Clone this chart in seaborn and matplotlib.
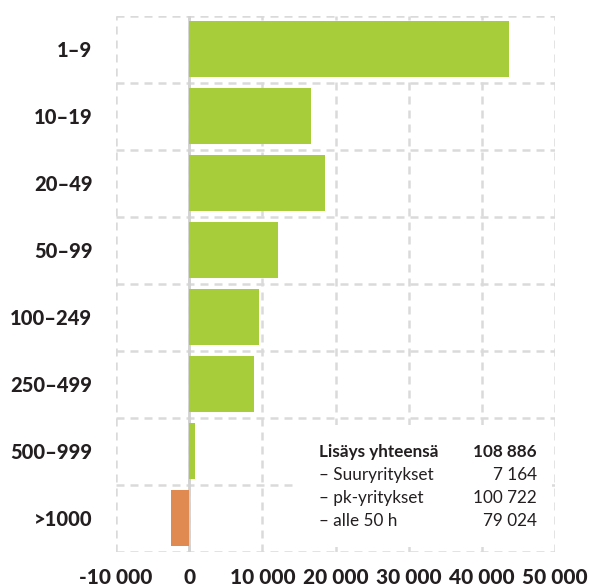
import matplotlib
matplotlib.use("Agg")
import matplotlib.pyplot as plt
from matplotlib.patches import Rectangle
import seaborn as sns
import pandas as pd

# data
categories = ["1–9", "10–19", "20–49", "50–99", "100–249", "250–499", "500–999", ">1000"]
values = [43700, 16700, 18624, 12100, 9598, 8800, 800, -2436]
bar_colors = ["#a8cd3a"] * 7 + ["#e08a52"]
x_ticks = [-10000, 0, 10000, 20000, 30000, 40000, 50000]
x_labels = ["-10 000", "0", "10 000", "20 000", "30 000", "40 000", "50 000"]

box_labels = ["Lisäys yhteensä", "– Suuryritykset", "– pk-yritykset", "– alle 50 h"]
box_values = ["108 886", "7 164", "100 722", "79 024"]

sns.set_style("white")
plt.rcParams["font.family"] = ["Lato", "DejaVu Sans"]

df = pd.DataFrame({"cat": categories, "val": values})

fig = plt.figure(figsize=(5.9, 5.87), dpi=100)
W, H = 590, 587
ax = fig.add_axes([116 / W, 1 - 551.7 / H, (555 - 116) / W, (551.7 - 15.7) / H])

sns.barplot(data=df, x="val", y="cat", hue="cat", palette=bar_colors,
            legend=False, width=0.83, orient="h", ax=ax, zorder=3,
            linewidth=0, saturation=1)

ax.set_xlim(-10000, 50000)
ax.set_ylim(7.5, -0.5)
for s in ax.spines.values():
    s.set_visible(False)

# grid lines (dashed)
grid_kw = dict(color="#dadada", lw=1.8, linestyle=(0, (3.2, 2.4)), zorder=1)
for xt in x_ticks:
    ax.axvline(xt, **grid_kw)
for i in range(len(categories) + 1):
    ax.axhline(i - 0.5, **grid_kw)
ax.axvline(0, color="#d2d2d2", lw=2, zorder=2)

ax.set_xticks(x_ticks)
ax.set_xticklabels(x_labels, fontsize=15, fontweight="black", color="#231f20")
ax.tick_params(axis="x", length=0, pad=12)
ax.tick_params(axis="y", length=0, pad=17)
for lab in ax.get_yticklabels():
    lab.set_fontsize(14.5)
    lab.set_fontweight("black")
    lab.set_color("#231f20")
ax.set_xlabel("")
ax.set_ylabel("")

# summary box
box = Rectangle(((296 - 116) / (555 - 116), (551.7 - 547) / 536),
                (552 - 296) / (555 - 116), (547 - 425) / 536,
                transform=ax.transAxes, facecolor="white", edgecolor="none", zorder=4)
ax.add_patch(box)

rows_y = [452, 475, 498, 521]
for i, (lab, val) in enumerate(zip(box_labels, box_values)):
    fw = "bold" if i == 0 else "normal"
    fig.text(319 / W, 1 - rows_y[i] / H, lab, fontsize=12.3, fontweight=fw,
             color="#231f20", va="center", ha="left", zorder=5)
    fig.text(537 / W, 1 - rows_y[i] / H, val, fontsize=12.3, fontweight=fw,
             color="#231f20", va="center", ha="right", zorder=5)

fig.savefig("out.png", dpi=100)
